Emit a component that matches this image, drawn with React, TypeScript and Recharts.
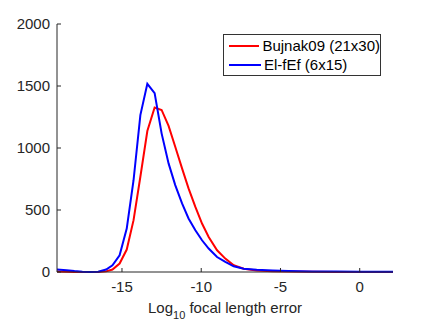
import { LineChart, Line, XAxis, YAxis, Label } from 'recharts';

const logErrors = [
  -19.1, -18.5, -18.0, -17.5, -17.0, -16.5, -16.0, -15.6, -15.15, -14.7, -14.27, -13.84,
  -13.4, -12.94, -12.5, -12.06, -11.64, -11.21, -10.8, -10.37, -9.95, -9.53, -9.0, -8.48,
  -7.95, -7.32, -6.5, -5.5, -4.5, -3.0, -1.5, 0, 1, 2.1,
];

const bujnakCounts = [
  5, 3, 1, 0, 0, 0, 5, 20, 68, 181, 418, 768,
  1137, 1326, 1307, 1178, 1010, 836, 674, 525, 391, 283, 175, 108,
  54, 27, 13, 6, 4, 2, 1, 1, 1, 1,
];

const elfefCounts = [
  20, 15, 8, 3, 1, 2, 20, 54, 135, 350, 740, 1265,
  1517, 1442, 1118, 876, 701, 553, 432, 337, 256, 189, 121, 81,
  46, 27, 18, 12, 8, 5, 4, 3, 3, 3,
];

const xTicks = [-15, -10, -5, 0];
const yTicks = [0, 500, 1000, 1500, 2000];

const seriesNames = ['Bujnak09 (21x30)', 'El-fEf (6x15)'];
const seriesColors = ['#ff0000', '#0000ff'];

const data = logErrors.map((x, i) => ({
  x,
  bujnak: bujnakCounts[i],
  elfef: elfefCounts[i],
}));

const axisColor = '#262626';
const font = '"Liberation Sans", Arial, sans-serif';

const XTick = (props: any) => {
  const { x, y, payload } = props;
  const axisY = y - 9;
  return (
    <g>
      <line x1={x} x2={x} y1={axisY} y2={axisY - 4} stroke={axisColor} />
      <text x={x} y={y} dy="0.71em" textAnchor="middle" fill={axisColor} fontSize={15} fontFamily={font}>
        {payload.value}
      </text>
    </g>
  );
};

const YTick = (props: any) => {
  const { x, y, payload } = props;
  const axisX = x + 7;
  return (
    <g>
      <line x1={axisX} x2={axisX + 4} y1={y} y2={y} stroke={axisColor} />
      <text x={x} y={y} dy="0.35em" textAnchor="end" fill={axisColor} fontSize={15} fontFamily={font}>
        {payload.value}
      </text>
    </g>
  );
};

export default function App() {
  return (
    <div style={{ position: 'absolute', left: 0, top: 0, width: 432, height: 324, background: '#fff' }}>
      <LineChart width={432} height={324} data={data} margin={{ top: 24, right: 39, left: 0, bottom: 0 }}>
        <XAxis
          dataKey="x"
          type="number"
          domain={[-19.1, 2.1]}
          ticks={xTicks}
          allowDataOverflow
          height={52}
          tickSize={0}
          tickMargin={9}
          tickLine={false}
          tick={<XTick />}
          stroke={axisColor}
        >
          <Label
            position="insideBottom"
            content={(p: any) => {
              const vb = p.viewBox;
              const cx = vb.x + vb.width / 2;
              const y = vb.y + vb.height - 11;
              return (
                <text x={cx} y={y} textAnchor="middle" fill={axisColor} fontSize={15} fontFamily={font}>
                  Log
                  <tspan fontSize={11} dy={6}>10</tspan>
                  <tspan dy={-6}> focal length error</tspan>
                </text>
              );
            }}
          />
        </XAxis>
        <YAxis
          domain={[0, 2000]}
          ticks={yTicks}
          width={57}
          tickSize={0}
          tickMargin={7}
          tickLine={false}
          tick={<YTick />}
          stroke={axisColor}
        />
        <Line
          dataKey="bujnak"
          stroke={seriesColors[0]}
          strokeWidth={2}
          dot={false}
          isAnimationActive={false}
        />
        <Line
          dataKey="elfef"
          stroke={seriesColors[1]}
          strokeWidth={2}
          dot={false}
          isAnimationActive={false}
        />
      </LineChart>
      <div
        style={{
          position: 'absolute',
          left: 223,
          top: 34,
          border: '1px solid #333',
          background: '#fff',
          width: 158,
          height: 42,
          boxSizing: 'border-box',
          padding: '1px 0 0 5px',
          fontFamily: font,
          fontSize: 15,
          color: '#000',
          lineHeight: '19px',
          whiteSpace: 'nowrap',
        }}
      >
        {seriesNames.map((name, i) => (
          <div key={name} style={{ display: 'flex', alignItems: 'center' }}>
            <span
              style={{
                display: 'inline-block',
                width: 32,
                height: 2,
                background: seriesColors[i],
                marginRight: 3,
              }}
            />
            {name}
          </div>
        ))}
      </div>
    </div>
  );
}
